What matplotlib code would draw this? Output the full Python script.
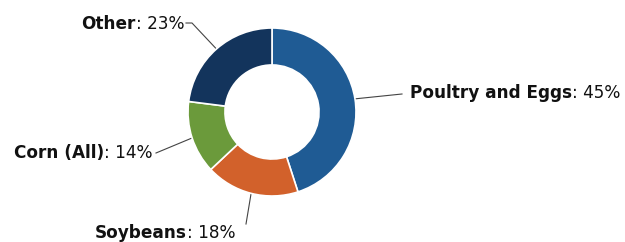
import numpy as np
import matplotlib
matplotlib.use("Agg")
import matplotlib.pyplot as plt

# data
categories = ["Poultry and Eggs", "Soybeans", "Corn (All)", "Other"]
shares = [45, 18, 14, 23]
colors = ["#1f5b94", "#d2612b", "#6b9a3b", "#13345c"]

W, H = 625, 242
fs = 12.2

fig = plt.figure(figsize=(W / 100, H / 100), dpi=100)
ax = fig.add_axes([0, 0, 1, 1])

# donut
cx, cy, r = 272, 130, 84
wedges, _ = ax.pie(shares, colors=colors, startangle=90, counterclock=False,
                   center=(cx, cy), radius=r,
                   wedgeprops=dict(width=r * 0.44, edgecolor="white", linewidth=1.2))
ax.set_xlim(0, W)
ax.set_ylim(0, H)
ax.set_aspect("equal")
ax.axis("off")

# label layout: text anchor (x, baseline y), alignment, leader bend points
layout = {
    "Poultry and Eggs": dict(xy=(410, 144), align="left", path=[(402, 148)]),
    "Soybeans": dict(xy=(95, 4), align="left", path=[(246, 18)]),
    "Corn (All)": dict(xy=(153, 84), align="right", path=[(156, 89)]),
    "Other": dict(xy=(184, 213), align="right", path=[(186, 219), (192, 219)]),
}

fig.canvas.draw()
renderer = fig.canvas.get_renderer()
inv = ax.transData.inverted()
tc = "#111111"

for w, name, pct in zip(wedges, categories, shares):
    lay = layout[name]
    x, y = lay["xy"]
    if lay["align"] == "left":
        t = ax.text(x, y, name, fontsize=fs, fontweight="bold", color=tc,
                    ha="left", va="baseline")
        bb = t.get_window_extent(renderer)
        x2 = inv.transform((bb.x1, 0))[0]
        ax.text(x2, y, f": {pct}%", fontsize=fs, color=tc, ha="left", va="baseline")
    else:
        t = ax.text(x, y, f": {pct}%", fontsize=fs, color=tc, ha="right", va="baseline")
        bb = t.get_window_extent(renderer)
        x2 = inv.transform((bb.x0, 0))[0]
        ax.text(x2, y, name, fontsize=fs, fontweight="bold", color=tc,
                ha="right", va="baseline")

    # leader line from wedge outer edge at mid angle
    mid = np.deg2rad((w.theta1 + w.theta2) / 2)
    px, py = cx + r * np.cos(mid), cy + r * np.sin(mid)
    pts = lay["path"] + [(px, py)]
    ax.plot([p[0] for p in pts], [p[1] for p in pts], color="#444444", lw=0.8, zorder=0)

fig.savefig("out.png", dpi=100)
